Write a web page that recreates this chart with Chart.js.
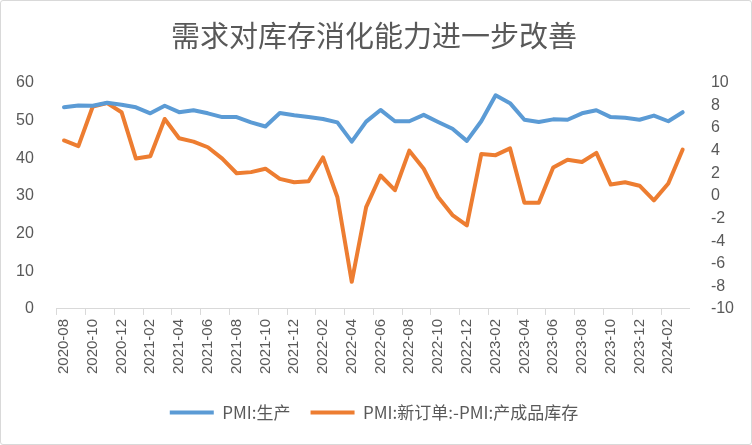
<!DOCTYPE html>
<html>
<head>
<meta charset="utf-8">
<script src="https://cdn.jsdelivr.net/npm/chart.js@4"></script>
<style>
  html, body { margin: 0; padding: 0; background: #fff; }
  #wrap { position: relative; width: 750px; height: 443px; border: 1px solid #d9d9d9; border-radius: 3px; }
</style>
</head>
<body>
<div id="wrap"><canvas id="mycanvas"></canvas></div>
<script>
// months 2020-08 .. 2024-03
var months = [
  '2020-08','2020-09','2020-10','2020-11','2020-12',
  '2021-01','2021-02','2021-03','2021-04','2021-05','2021-06','2021-07','2021-08','2021-09','2021-10','2021-11','2021-12',
  '2022-01','2022-02','2022-03','2022-04','2022-05','2022-06','2022-07','2022-08','2022-09','2022-10','2022-11','2022-12',
  '2023-01','2023-02','2023-03','2023-04','2023-05','2023-06','2023-07','2023-08','2023-09','2023-10','2023-11','2023-12',
  '2024-01','2024-02','2024-03'
];
// PMI:生产 (left axis)
var production = [
  53.5, 54.0, 53.9, 54.7, 54.2,
  53.5, 51.9, 53.9, 52.2, 52.7, 51.9, 50.9, 50.9, 49.5, 48.4, 52.0, 51.4,
  50.9, 50.4, 49.5, 44.4, 49.7, 52.8, 49.8, 49.8, 51.5, 49.6, 47.8, 44.6,
  49.8, 56.7, 54.6, 50.2, 49.6, 50.3, 50.2, 51.9, 52.7, 50.9, 50.7, 50.2,
  51.3, 49.8, 52.2
];
// PMI:新订单 - PMI:产成品库存 (right axis)
var orderMinusStock = [
  4.9, 4.4, 7.9, 8.2, 7.4,
  3.3, 3.5, 6.8, 5.1, 4.8, 4.3, 3.3, 2.0, 2.1, 2.4, 1.5, 1.2,
  1.3, 3.4, -0.1, -7.6, -1.0, 1.8, 0.5, 4.0, 2.4, -0.1, -1.7, -2.6,
  3.7, 3.6, 4.2, -0.6, -0.6, 2.5, 3.2, 3.0, 3.8, 1.0, 1.2, 0.9,
  -0.4, 1.1, 4.1
];
var leftTicks = [0, 10, 20, 30, 40, 50, 60];
var rightTicks = [-10, -8, -6, -4, -2, 0, 2, 4, 6, 8, 10];

var textColor = '#595959';
var fontFamily = '"Noto Sans CJK SC", "Liberation Sans", sans-serif';

var ctx = document.getElementById('mycanvas');
var chart = new Chart(ctx, {
  type: 'line',
  data: {
    labels: months,
    datasets: [
      {
        label: 'PMI:生产',
        data: production,
        yAxisID: 'y',
        borderColor: '#5B9BD5',
        backgroundColor: '#5B9BD5',
        borderWidth: 4,
        pointRadius: 0,
        borderCapStyle: 'round',
        borderJoinStyle: 'round',
        tension: 0
      },
      {
        label: 'PMI:新订单:-PMI:产成品库存',
        data: orderMinusStock,
        yAxisID: 'y1',
        borderColor: '#ED7D31',
        backgroundColor: '#ED7D31',
        borderWidth: 4,
        pointRadius: 0,
        borderCapStyle: 'round',
        borderJoinStyle: 'round',
        tension: 0
      }
    ]
  },
  options: {
    responsive: true,
    maintainAspectRatio: false,
    animation: false,
    layout: { padding: { left: 0, right: 4, top: 12, bottom: 13 } },
    plugins: {
      title: {
        display: true,
        text: '需求对库存消化能力进一步改善',
        color: textColor,
        font: { family: fontFamily, size: 29, weight: 'normal' },
        padding: { top: 6, bottom: 29 }
      },
      legend: {
        position: 'bottom',
        labels: {
          color: textColor,
          font: { family: fontFamily, size: 17 },
          usePointStyle: true,
          pointStyle: 'line',
          pointStyleWidth: 44,
          padding: 20
        }
      },
      tooltip: { enabled: false }
    },
    scales: {
      x: {
        offset: true,
        afterFit: function (scale) { scale.height += 6; },
        grid: {
          display: true,
          offset: true,
          drawOnChartArea: false,
          tickLength: 6,
          color: function (c) { return c.index % 2 === 0 ? '#d9d9d9' : 'rgba(0,0,0,0)'; }
        },
        border: { display: true, color: '#d9d9d9', width: 1 },
        ticks: {
          autoSkip: false,
          maxRotation: 90,
          minRotation: 90,
          color: textColor,
          font: { family: '"Liberation Sans", sans-serif', size: 15 },
          padding: 4,
          callback: function (v, i) { return i % 2 === 0 ? months[i] : ''; }
        }
      },
      y: {
        position: 'left',
        min: 0,
        max: 60,
        afterBuildTicks: function (axis) { axis.ticks = leftTicks.map(function (v) { return { value: v }; }); },
        grid: { display: false },
        border: { display: false },
        ticks: {
          color: textColor,
          font: { family: '"Liberation Sans", sans-serif', size: 16 },
          padding: 15
        }
      },
      y1: {
        position: 'right',
        min: -10,
        max: 10,
        afterBuildTicks: function (axis) { axis.ticks = rightTicks.map(function (v) { return { value: v }; }); },
        grid: { display: false },
        border: { display: false },
        ticks: {
          color: textColor,
          font: { family: '"Liberation Sans", sans-serif', size: 16 },
          padding: 13
        }
      }
    }
  }
});
</script>
</body>
</html>
